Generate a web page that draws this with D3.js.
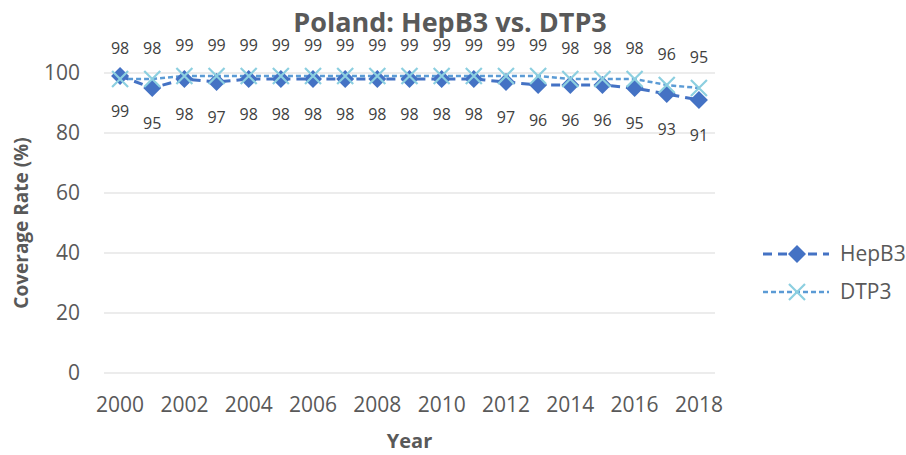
<!DOCTYPE html>
<html>
<head>
<meta charset="utf-8">
<script src="https://cdn.jsdelivr.net/npm/d3@7"></script>
<style>
  body { margin: 0; background: #fff; }
  text { font-family: "Open Sans", "Noto Sans", sans-serif; }
</style>
</head>
<body>
<div id="chart"></div>
<script>
const width = 906;
const height = 455;
const margin = { top: 73, right: 191, bottom: 82, left: 104 };

const years = d3.range(2000, 2019);
const hepb3 = [99, 95, 98, 97, 98, 98, 98, 98, 98, 98, 98, 98, 97, 96, 96, 96, 95, 93, 91];
const dtp3 = [98, 98, 99, 99, 99, 99, 99, 99, 99, 99, 99, 99, 99, 99, 98, 98, 98, 96, 95];
const yTicks = [0, 20, 40, 60, 80, 100];
const xTickYears = years.filter(y => y % 2 === 0);

const svg = d3.select("#chart")
    .append("svg")
    .attr("width", width)
    .attr("height", height);

const x = d3.scaleBand()
    .domain(years)
    .range([margin.left, width - margin.right]);

const y = d3.scaleLinear()
    .domain([0, 100])
    .range([height - margin.bottom, margin.top]);

const cx = d => x(d) + x.bandwidth() / 2;

// gridlines
svg.append("g")
    .selectAll("line")
    .data(yTicks)
    .enter().append("line")
    .attr("x1", margin.left)
    .attr("x2", width - margin.right)
    .attr("y1", d => y(d))
    .attr("y2", d => y(d))
    .attr("stroke", "#d9d9d9")
    .attr("stroke-width", 1);

// y axis labels
svg.append("g")
    .attr("transform", `translate(${margin.left - 24},0)`)
    .call(d3.axisLeft(y).tickValues(yTicks).tickSize(0).tickPadding(0))
    .call(g => g.select(".domain").remove())
    .selectAll("text")
    .attr("font-size", 21)
    .attr("font-family", "Open Sans")
    .attr("fill", "#595959");

// x axis labels
svg.append("g")
    .attr("transform", `translate(0,${height - margin.bottom + 24})`)
    .call(d3.axisBottom(x).tickValues(xTickYears).tickSize(0).tickPadding(0))
    .call(g => g.select(".domain").remove())
    .selectAll("text")
    .attr("font-size", 21)
    .attr("font-family", "Open Sans")
    .attr("fill", "#595959");

const series = [
    { name: "HepB3", values: hepb3, line: "#4472c4", marker: "#4472c4", dash: "9,6", width: 3, symbol: "diamond" },
    { name: "DTP3", values: dtp3, line: "#5b9bd5", marker: "#8ccfe0", dash: "5,3", width: 2.5, symbol: "x" }
];

const line = d3.line()
    .x((d, i) => cx(years[i]))
    .y(d => y(d));

function drawMarker(g, s, px, py) {
    if (s.symbol === "diamond") {
        g.append("path")
            .attr("d", `M${px},${py - 9}L${px + 9},${py}L${px},${py + 9}L${px - 9},${py}Z`)
            .attr("fill", s.marker);
    } else {
        g.append("path")
            .attr("d", `M${px - 8},${py - 8}L${px + 8},${py + 8}M${px - 8},${py + 8}L${px + 8},${py - 8}`)
            .attr("stroke", s.marker)
            .attr("stroke-width", 2.2)
            .attr("fill", "none");
    }
}

series.forEach(s => {
    svg.append("path")
        .datum(s.values)
        .attr("d", line)
        .attr("fill", "none")
        .attr("stroke", s.line)
        .attr("stroke-width", s.width)
        .attr("stroke-dasharray", s.dash);
});

series.forEach(s => {
    const g = svg.append("g");
    s.values.forEach((v, i) => drawMarker(g, s, cx(years[i]), y(v)));
});

// data labels
svg.append("g")
    .selectAll("text")
    .data(dtp3)
    .enter().append("text")
    .attr("x", (d, i) => cx(years[i]))
    .attr("y", d => y(d) - 25)
    .attr("text-anchor", "middle")
    .attr("font-size", 16)
    .attr("fill", "#404040")
    .text(d => d);

svg.append("g")
    .selectAll("text")
    .data(hepb3)
    .enter().append("text")
    .attr("x", (d, i) => cx(years[i]))
    .attr("y", d => y(d) + 41)
    .attr("text-anchor", "middle")
    .attr("font-size", 16)
    .attr("fill", "#404040")
    .text(d => d);

// title
svg.append("text")
    .attr("x", 450)
    .attr("y", 32)
    .attr("text-anchor", "middle")
    .attr("font-size", 27)
    .attr("font-weight", "bold")
    .attr("fill", "#595959")
    .text("Poland: HepB3 vs. DTP3");

// axis titles
svg.append("text")
    .attr("x", (margin.left + width - margin.right) / 2)
    .attr("y", 448)
    .attr("text-anchor", "middle")
    .attr("font-size", 20)
    .attr("font-weight", "bold")
    .attr("fill", "#595959")
    .text("Year");

svg.append("text")
    .attr("transform", `translate(28,${(margin.top + height - margin.bottom) / 2}) rotate(-90)`)
    .attr("text-anchor", "middle")
    .attr("font-size", 19)
    .attr("font-weight", "bold")
    .attr("fill", "#595959")
    .text("Coverage Rate (%)");

// legend
const legend = svg.append("g")
    .attr("transform", "translate(763,254)");

legend.selectAll(".legend-item")
    .data(series)
    .enter().append("g")
    .attr("class", "legend-item")
    .attr("transform", (d, i) => `translate(0,${i * 38})`)
    .each(function(s) {
        const g = d3.select(this);
        g.append("line")
            .attr("x1", 0).attr("x2", 66)
            .attr("stroke", s.line)
            .attr("stroke-width", s.width)
            .attr("stroke-dasharray", s.dash);
        drawMarker(g, s, 34, 0);
        g.append("text")
            .attr("x", 77)
            .attr("y", 0)
            .attr("dy", "0.35em")
            .attr("font-size", 21)
            .attr("fill", "#595959")
            .text(s.name);
    });
</script>
</body>
</html>
